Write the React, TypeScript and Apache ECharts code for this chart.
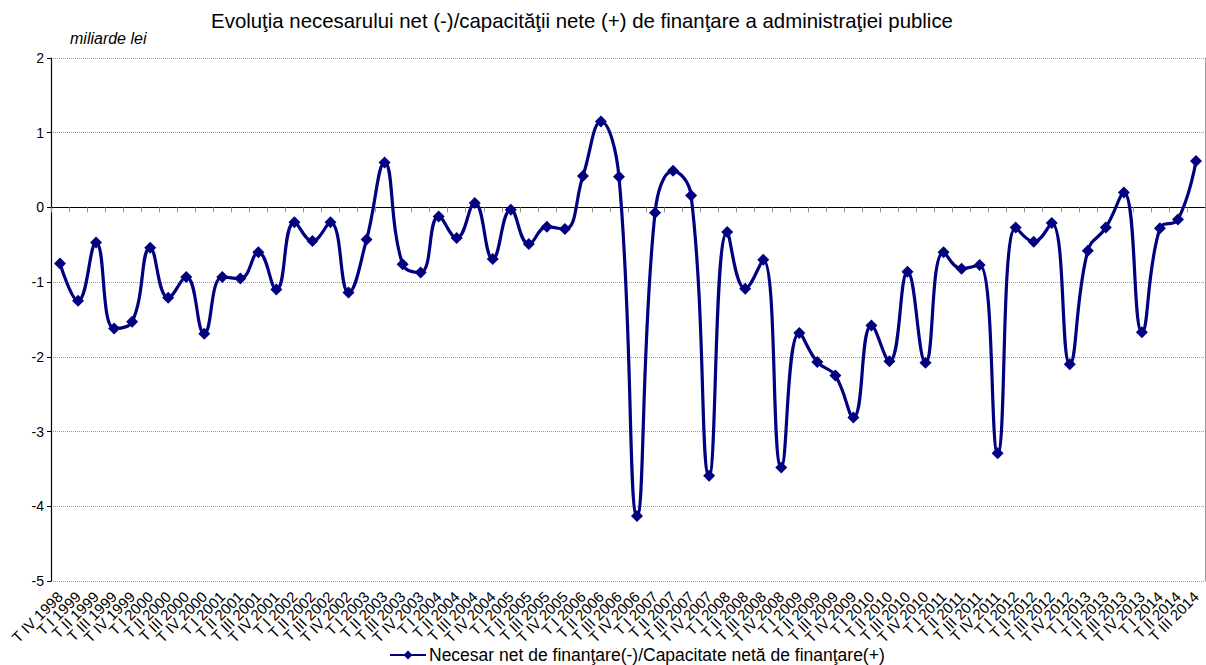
import React, { useEffect, useRef } from "react";
import * as echarts from "echarts";

const years = [1998, 1999, 2000, 2001, 2002, 2003, 2004, 2005, 2006, 2007, 2008, 2009, 2010, 2011, 2012, 2013, 2014];
const quarterNames = ["T I", "T II", "T III", "T IV"];

const categories: string[] = [];
for (const y of years) {
  for (let q = 0; q < 4; q++) {
    if (y === 1998 && q < 3) continue;
    if (y === 2014 && q > 2) continue;
    categories.push(`${quarterNames[q]} ${y}`);
  }
}

const values = [
  -0.75, -1.25, -0.47, -1.62, -1.53, -0.54, -1.21, -0.93, -1.69, -0.93, -0.95, -0.6, -1.1,
  -0.2, -0.45, -0.2, -1.14, -0.43, 0.6, -0.76, -0.87, -0.12, -0.41, 0.06, -0.69, -0.03,
  -0.49, -0.26, -0.29, 0.42, 1.15, 0.41, -4.13, -0.07, 0.49, 0.16, -3.59, -0.33, -1.09,
  -0.7, -3.48, -1.68, -2.07, -2.25, -2.81, -1.58, -2.06, -0.86, -2.08, -0.6, -0.82, -0.77,
  -3.29, -0.27, -0.46, -0.21, -2.1, -0.58, -0.27, 0.2, -1.67, -0.28, -0.16, 0.62,
];

const titleText = "Evoluţia necesarului net (-)/capacităţii nete (+) de finanţare a administraţiei publice";
const unitText = "miliarde lei";
const seriesName = "Necesar net de finanţare(-)/Capacitate netă de finanţare(+)";

const FONT = "Arial, 'Liberation Sans', sans-serif";

export default function App() {
  const ref = useRef<HTMLDivElement>(null);
  useEffect(() => {
    if (!ref.current) return;
    const chart = echarts.init(ref.current, null, { renderer: "svg" });
    chart.setOption({
      animation: false,
      backgroundColor: "#ffffff",
      textStyle: { fontFamily: FONT },
      title: [
        {
          text: titleText,
          left: 577,
          textAlign: "center",
          top: 6,
          textStyle: { fontFamily: FONT, fontSize: 20.4, fontWeight: "normal", color: "#000" },
        },
        {
          text: unitText,
          left: 65,
          top: 25,
          textStyle: { fontFamily: FONT, fontSize: 16, fontStyle: "italic", fontWeight: "normal", color: "#000" },
        },
      ],
      legend: {
        data: [seriesName],
        left: 389,
        top: 645,
        padding: 0,
        itemWidth: 36,
        itemHeight: 11,
        itemGap: 4,
        textStyle: { fontFamily: FONT, fontSize: 17.5, lineHeight: 20, color: "#000", padding: [0, 0, 0, -2] },
      },
      grid: { left: 51, right: 1, top: 58, bottom: 84, containLabel: false },
      xAxis: [
        {
          type: "category",
          data: categories,
          boundaryGap: true,
          position: "bottom",
          axisLine: { show: false, onZero: false },
          axisTick: { show: false },
          axisLabel: {
            interval: 0,
            rotate: 45,
            fontSize: 15,
            fontFamily: FONT,
            color: "#000",
            margin: 13,
          },
          splitLine: { show: false },
        },
        {
          type: "category",
          data: categories,
          boundaryGap: true,
          position: "top",
          axisLine: { show: true, onZero: true, lineStyle: { color: "#000", width: 1.2 } },
          axisTick: { show: true, inside: true, length: 5, interval: 0, lineStyle: { color: "#999" } },
          axisLabel: { show: false },
          splitLine: { show: false },
        },
      ],
      yAxis: [
        {
          type: "value",
          min: -5,
          max: 2,
          interval: 1,
          axisLine: { show: true, lineStyle: { color: "#000", width: 1.2 } },
          axisTick: { show: true, length: 4, lineStyle: { color: "#000" } },
          axisLabel: { fontSize: 14, fontFamily: FONT, color: "#000", margin: 7 },
          splitLine: { show: true, lineStyle: { color: "#999", type: "dotted", width: 1 } },
        },
        {
          type: "value",
          min: -5,
          max: 2,
          interval: 1,
          position: "right",
          axisLine: { show: true, lineStyle: { color: "#999", width: 1 } },
          axisTick: { show: false },
          axisLabel: { show: false },
          splitLine: { show: false },
        },
      ],
      series: [
        {
          name: seriesName,
          type: "line",
          data: values,
          xAxisIndex: 0,
          yAxisIndex: 0,
          smooth: 0.45,
          symbol: "diamond",
          symbolSize: 12,
          lineStyle: { color: "#000080", width: 3.2 },
          itemStyle: { color: "#000080" },
          z: 5,
        },
      ],
    });
    return () => chart.dispose();
  }, []);
  return (
    <div
      ref={ref}
      style={{ position: "fixed", left: 0, top: 0, width: 1206, height: 665 }}
    />
  );
}
